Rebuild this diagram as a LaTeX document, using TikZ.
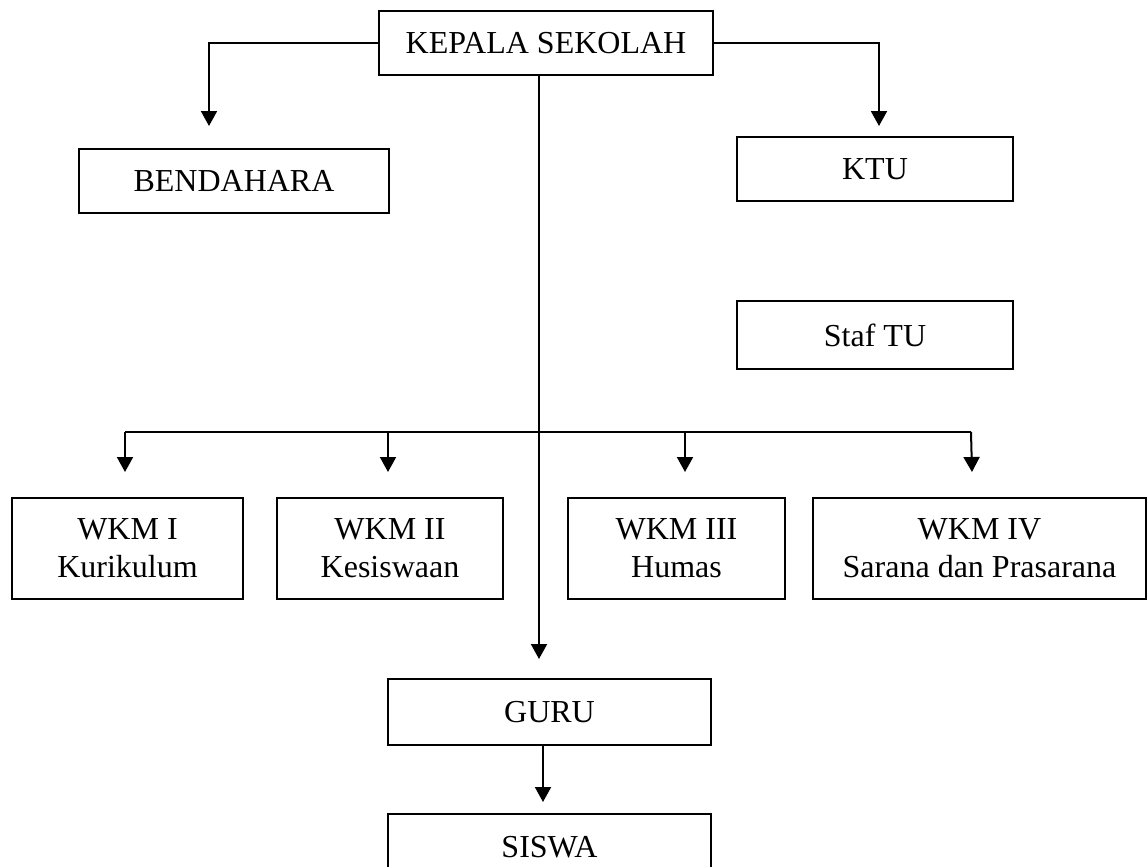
\documentclass[tikz,border=0pt]{standalone}
\usepackage{fontspec}
\setmainfont{Liberation Serif}
\usetikzlibrary{arrows.meta}
\begin{document}
\begin{tikzpicture}[x=0.5pt,y=-0.5pt,
  box/.style={draw=black,line width=1pt,fill=white,inner sep=0pt,align=center,
    font=\fontsize{16}{19}\selectfont},
  conn/.style={line width=1pt},
  arr/.style={line width=1pt,-{Triangle[width=8pt,length=7.5pt]}}]
\useasboundingbox (0,0) rectangle (1147,867);
\clip (0,0) rectangle (1147,867);
\fill[white] (0,0) rectangle (1147,867);
% nodes
\node[box,minimum width=167pt,minimum height=32pt] (kepala) at (546,43) {KEPALA SEKOLAH};
\node[box,minimum width=155pt,minimum height=32pt] (bend) at (234,181) {BENDAHARA};
\node[box,minimum width=138pt,minimum height=32pt] (ktu) at (875,169) {KTU};
\node[box,minimum width=138pt,minimum height=34pt] (staf) at (875,335) {Staf TU};
\node[box,minimum width=115.5pt,minimum height=50.5pt] (w1) at (127.5,548.5) {WKM I\\Kurikulum};
\node[box,minimum width=113pt,minimum height=50.5pt] (w2) at (390,548.5) {WKM II\\Kesiswaan};
\node[box,minimum width=108.5pt,minimum height=50.5pt] (w3) at (676.5,548.5) {WKM III\\Humas};
\node[box,minimum width=166.5pt,minimum height=50.5pt] (w4) at (979.5,548.5) {WKM IV\\Sarana dan Prasarana};
\node[box,minimum width=161.5pt,minimum height=33pt] (guru) at (549.5,712) {GURU};
\node[box,minimum width=161.5pt,minimum height=33pt] (siswa) at (549.5,847) {SISWA};
% coordinates
\coordinate (tb) at (209,126);
\coordinate (tk) at (879,126);
\coordinate (ctop) at (539,75);
\coordinate (cbot) at (539,659);
\coordinate (bus1) at (125,432);
\coordinate (bus4) at (971,432);
\coordinate (t1) at (125,472);
\coordinate (t2) at (388,472);
\coordinate (t3) at (685,472);
\coordinate (t4) at (972,472);
\coordinate (gs) at (543,745);
\coordinate (ts) at (543,802);
% connectors
\draw[arr] (kepala.west) -| (tb);
\draw[arr] (kepala.east) -| (tk);
\draw[arr] (ctop) -- (cbot);
\draw[conn] (bus1) -- (bus4);
\draw[arr] (bus1) -- (t1);
\draw[arr] (t2 |- bus1) -- (t2);
\draw[arr] (t3 |- bus1) -- (t3);
\draw[arr] (bus4) -- (t4);
\draw[arr] (gs) -- (ts);
\end{tikzpicture}
\end{document}
